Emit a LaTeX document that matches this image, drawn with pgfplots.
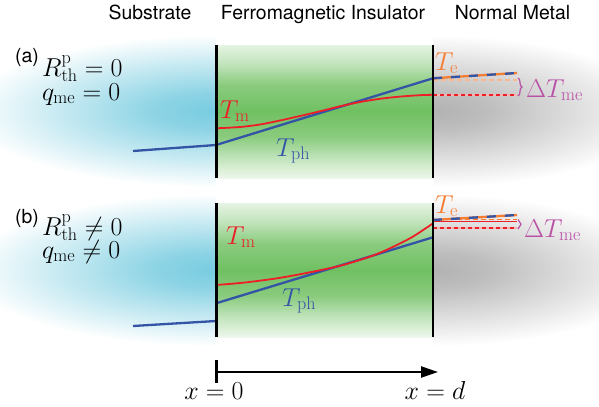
\RequirePackage{fix-cm}
\documentclass[border=0pt]{standalone}
\usepackage[no-math]{fontspec}
\newfontfamily\hel{TeX Gyre Heros}
\usepackage{pgfplots}
\pgfplotsset{compat=1.18}
\usetikzlibrary{arrows.meta,decorations.pathreplacing}
\definecolor{cblue}{RGB}{52,84,166}
\definecolor{cred}{RGB}{237,30,38}
\definecolor{corange}{RGB}{245,125,50}
\definecolor{cmag}{RGB}{185,80,165}
\definecolor{cgreen}{RGB}{112,192,98}
\definecolor{ccyan}{RGB}{120,204,224}
\definecolor{cgray}{RGB}{178,178,178}
\pgfdeclareradialshading{glowblue}{\pgfpoint{0bp}{0bp}}{color(0bp)=(ccyan); color(6bp)=(ccyan!85!white); color(25bp)=(white); color(50bp)=(white)}
\pgfdeclareradialshading{glowgray}{\pgfpoint{0bp}{0bp}}{color(0bp)=(cgray); color(6bp)=(cgray!85!white); color(25bp)=(white); color(50bp)=(white)}
\newcommand{\M}[1]{\fontsize{26}{30}\selectfont$#1$}
\newcommand{\Hs}{\hel\fontsize{19.5}{23}\selectfont}
\pgfplotstableread{
x y c
216 45 0.18
433 45 0.18
216 65 0.45
433 65 0.45
216 85 0.82
433 85 0.82
216 111 1
433 111 1
216 137 0.82
433 137 0.82
216 157 0.45
433 157 0.45
216 178 0.12
433 178 0.12
}\bandA
\pgfplotstableread{
x y c
216 203 0.18
433 203 0.18
216 223 0.45
433 223 0.45
216 244 0.82
433 244 0.82
216 270 1
433 270 1
216 296 0.82
433 296 0.82
216 316 0.45
433 316 0.45
216 337 0.12
433 337 0.12
}\bandB
\begin{document}
\begin{tikzpicture}
\path[use as bounding box] (0,0) rectangle (599bp,407bp);
\begin{axis}[at={(0,0)}, anchor=south west, width=599bp, height=407bp, scale only axis,
  xmin=0, xmax=599, ymin=0, ymax=407, y dir=reverse, hide axis, clip=false,
  colormap={gw}{color=(white) color=(cgreen)}, point meta min=0, point meta max=1]
% ---- glows panel (a)
\begin{scope}
  \clip (axis cs:0,33) rectangle (axis cs:216,190);
  \shade[shading=glowblue] (axis cs:216,111) ellipse [x radius=250bp, y radius=76bp];
\end{scope}
\begin{scope}
  \clip (axis cs:433,33) rectangle (axis cs:599,190);
  \shade[shading=glowgray] (axis cs:433,111) ellipse [x radius=230bp, y radius=76bp];
\end{scope}
% ---- glows panel (b)
\begin{scope}
  \clip (axis cs:0,191) rectangle (axis cs:216,349);
  \shade[shading=glowblue] (axis cs:216,270) ellipse [x radius=250bp, y radius=76bp];
\end{scope}
\begin{scope}
  \clip (axis cs:433,191) rectangle (axis cs:599,349);
  \shade[shading=glowgray] (axis cs:433,270) ellipse [x radius=230bp, y radius=76bp];
\end{scope}
% ---- green bands (FI)
\addplot[surf, shader=interp, mesh/cols=2, point meta=explicit] table[meta=c] {\bandA};
\addplot[surf, shader=interp, mesh/cols=2, point meta=explicit] table[meta=c] {\bandB};
% ---- panel (a)
\addplot[cblue, line width=2.3bp] coordinates {(133,151) (216,145)};
\addplot[cblue, line width=2.3bp] coordinates {(216,145) (433,78.3)};
\addplot[cred, line width=1.8bp, smooth] coordinates {(216,128.3) (240,127) (260,124.5) (280,120.5) (300,116) (320,111.3) (340,106.3) (360,102) (380,98.8) (400,96.6) (420,95.2) (433,94.8)};
\addplot[red!30, line width=1.6bp] coordinates {(433,95) (517,95)};
\addplot[cred, line width=1.6bp, dash pattern=on 4bp off 3bp] coordinates {(433,95) (517,95)};
\addplot[corange!55, line width=1.2bp, dash pattern=on 5bp off 3bp] coordinates {(433,80) (517,80)};
\addplot[corange, line width=2.3bp] coordinates {(433,78.3) (517,73)};
\addplot[cblue, line width=2.3bp, dash pattern=on 9bp off 9bp] coordinates {(433,78.3) (517,73)};
\draw[cmag, line width=1.2bp, decorate, decoration={brace, amplitude=4bp}] (axis cs:518,78) -- (axis cs:518,96);
% ---- panel (b)
\addplot[cblue, line width=2.3bp] coordinates {(133,326) (216,321)};
\addplot[cblue, line width=2.3bp] coordinates {(216,303.3) (433,237.3)};
\addplot[cred, line width=1.8bp, smooth] coordinates {(216,285) (243,282.7) (277,278.3) (310,272.3) (343,265) (377,254) (410,238.3) (433,223.3)};
\addplot[red!30, line width=1.6bp] coordinates {(433,228) (517,228)};
\addplot[cred, line width=1.6bp, dash pattern=on 4bp off 3bp] coordinates {(433,228) (517,228)};
\addplot[cred, line width=1.2bp] coordinates {(433,221.5) (517,221.5)};
\addplot[corange, line width=1.2bp, dash pattern=on 5bp off 3bp] coordinates {(433,219.5) (517,219.5)};
\addplot[corange, line width=2.3bp] coordinates {(433,220) (517,215)};
\addplot[cblue, line width=2.3bp, dash pattern=on 9bp off 9bp] coordinates {(433,220) (517,215)};
\draw[cmag, line width=1.2bp, decorate, decoration={brace, amplitude=3bp}] (axis cs:518,219.5) -- (axis cs:518,229);
% ---- vertical boundaries
\draw[black, line width=2.2bp] (axis cs:216.5,45) -- (axis cs:216.5,178);
\draw[black, line width=2.2bp] (axis cs:433.3,45) -- (axis cs:433.3,178);
\draw[black, line width=2.2bp] (axis cs:216.5,203) -- (axis cs:216.5,337);
\draw[black, line width=2.2bp] (axis cs:433.3,203) -- (axis cs:433.3,337);
% ---- headers
\node[anchor=base, inner sep=0] at (axis cs:150,20) {\Hs Substrate};
\node[anchor=base, inner sep=0] at (axis cs:323,20) {\Hs Ferromagnetic Insulator};
\node[anchor=base, inner sep=0] at (axis cs:512.5,20) {\Hs Normal Metal};
% ---- left labels
\node[anchor=base west, inner sep=0] at (axis cs:15,62) {\Hs (a)};
\node[anchor=base west, inner sep=0] at (axis cs:42,76) {\M{R^{\mathrm{p}}_{\mathrm{th}}=0}};
\node[anchor=base west, inner sep=0] at (axis cs:42,100) {\M{q_{\mathrm{me}}=0}};
\node[anchor=base west, inner sep=0] at (axis cs:15,223) {\Hs (b)};
\node[anchor=base west, inner sep=0] at (axis cs:42,235) {\M{R^{\mathrm{p}}_{\mathrm{th}}\neq0}};
\node[anchor=base west, inner sep=0] at (axis cs:42,258) {\M{q_{\mathrm{me}}\neq0}};
% ---- curve labels
\node[anchor=base west, inner sep=0, text=cred] at (axis cs:220,118) {\M{T_\mathrm{m}}};
\node[anchor=base west, inner sep=0, text=cblue] at (axis cs:276,156) {\M{T_\mathrm{ph}}};
\node[anchor=base west, inner sep=0, text=corange] at (axis cs:435,70) {\M{T_\mathrm{e}}};
\node[anchor=base west, inner sep=0, text=cmag] at (axis cs:526,97) {\M{\Delta T_\mathrm{me}}};
\node[anchor=base west, inner sep=0, text=cred] at (axis cs:226,244) {\M{T_\mathrm{m}}};
\node[anchor=base west, inner sep=0, text=cblue] at (axis cs:282,306) {\M{T_\mathrm{ph}}};
\node[anchor=base west, inner sep=0, text=corange] at (axis cs:435,213) {\M{T_\mathrm{e}}};
\node[anchor=base west, inner sep=0, text=cmag] at (axis cs:524,237) {\M{\Delta T_\mathrm{me}}};
% ---- x axis arrow
\draw[black, line width=2.3bp, -{Triangle[length=17bp,width=11bp]}] (axis cs:216,372) -- (axis cs:438,372);
\draw[black, line width=2.3bp] (axis cs:216.5,360) -- (axis cs:216.5,383);
\node[anchor=base, inner sep=0] at (axis cs:214,399) {\M{x=0}};
\node[anchor=base, inner sep=0] at (axis cs:435,399) {\M{x=d}};
\end{axis}
\end{tikzpicture}
\end{document}
